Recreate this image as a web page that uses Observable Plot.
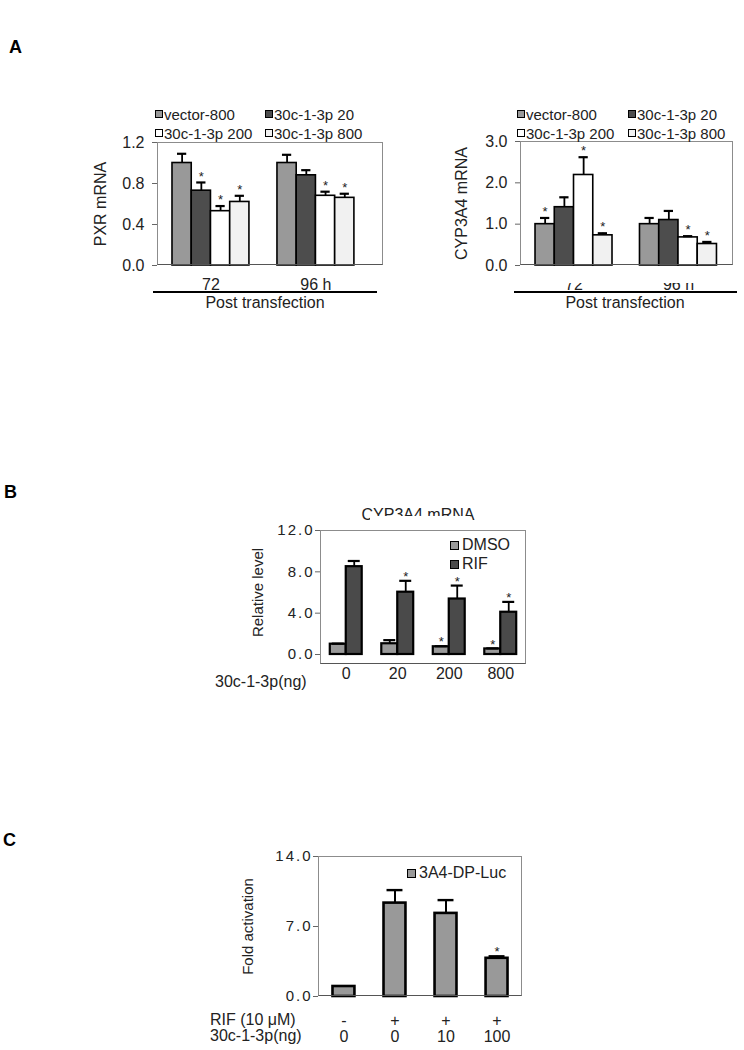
<!DOCTYPE html>
<html>
<head>
<meta charset="utf-8">
<script src="https://cdn.jsdelivr.net/npm/d3@7"></script>
<script src="https://cdn.jsdelivr.net/npm/@observablehq/plot@0.6"></script>
<style>
  body { margin: 0; background: #fff; }
  #page { position: relative; width: 744px; height: 1050px; overflow: hidden; background: #fff;
          font-family: "Liberation Sans", Arial, sans-serif; color: #222; }
  .abs { position: absolute; white-space: nowrap; }
  .frame { position: absolute; box-sizing: border-box; border: 1.5px solid #8c8c8c; border-bottom-color: #555; pointer-events: none; }
  .leg { position: absolute; display: flex; align-items: center; gap: 2px; white-space: nowrap; line-height: 1; height: 20px; }
  .sw { display: inline-block; box-sizing: border-box; border: 1.2px solid #000; }
  .hline { position: absolute; height: 2px; background: #000; }
  .cover { position: absolute; background: #fff; }
</style>
</head>
<body>
<div id="page"></div>
<script>
// ---------------- DATA ----------------
// Panel A
const seriesA = ["vector-800", "30c-1-3p 20", "30c-1-3p 200", "30c-1-3p 800"];
const colorsA = ["#999999", "#4d4d4d", "#ffffff", "#f1f1f1"];
const timesA = ["72", "96 h"];
const pxrMean = [[1.00, 0.73, 0.53, 0.62], [1.00, 0.88, 0.68, 0.66]];
const pxrErr  = [[0.09, 0.08, 0.05, 0.06], [0.08, 0.05, 0.04, 0.04]];
const pxrStar = [[0, 1, 1, 1], [0, 0, 1, 1]];
const cypMean = [[1.00, 1.41, 2.19, 0.73], [1.00, 1.10, 0.68, 0.52]];
const cypErr  = [[0.15, 0.24, 0.43, 0.05], [0.15, 0.22, 0.03, 0.05]];
const cypStar = [[1, 0, 1, 1], [0, 0, 1, 1]];

// Panel B
const dosesB = ["0", "20", "200", "800"];
const treatB = ["DMSO", "RIF"];
const colorsB = ["#9a9a9a", "#4a4a4a"];
const dmsoMean = [1.00, 1.04, 0.75, 0.54];
const dmsoErr  = [0.05, 0.35, 0.05, 0.05];
const dmsoStar = [0, 0, 1, 1];
const rifMean  = [8.50, 6.03, 5.37, 4.09];
const rifErr   = [0.55, 1.10, 1.30, 1.00];
const rifStar  = [0, 1, 1, 1];

// Panel C
const rifC = ["-", "+", "+", "+"];
const mirC = ["0", "0", "10", "100"];
const lucMean = [1.00, 9.34, 8.31, 3.82];
const lucErr  = [0.00, 1.30, 1.33, 0.20];
const lucStar = [0, 0, 0, 1];

// ---------------- HELPERS ----------------
const page = document.getElementById("page");
const FONT = "Liberation Sans, Arial, sans-serif";

function place(node, left, top) {
  node.style.position = "absolute";
  node.style.left = left + "px";
  node.style.top = top + "px";
  page.appendChild(node);
  return node;
}
function textDiv(txt, left, top, css = "") {
  const d = document.createElement("div");
  d.className = "abs";
  d.style.cssText = css;
  d.style.left = left + "px";
  d.style.top = top + "px";
  d.textContent = txt;
  page.appendChild(d);
  return d;
}
function boxDiv(cls, left, top, w, h) {
  const d = document.createElement("div");
  d.className = cls;
  d.style.left = left + "px"; d.style.top = top + "px";
  d.style.width = w + "px"; d.style.height = h + "px";
  page.appendChild(d);
  return d;
}
function legendItem(x, yc, label, color, fs, sw, gap) {
  const d = document.createElement("div");
  d.className = "leg";
  d.style.left = x + "px";
  d.style.top = (yc - 10) + "px";
  d.style.fontSize = fs + "px";
  d.style.gap = gap + "px";
  const s = document.createElement("span");
  s.className = "sw";
  s.style.width = sw + "px"; s.style.height = sw + "px"; s.style.background = color;
  const t = document.createElement("span");
  t.textContent = label;
  d.appendChild(s); d.appendChild(t);
  page.appendChild(d);
}
function spaceTicks(svg, ls) {
  svg.querySelectorAll('[aria-label="y-axis tick label"] text').forEach(t => t.style.letterSpacing = ls);
}

function groupedPlot(o) {
  // left outer gap of the first facet band, so the y axis sits on the outer frame
  const inner = o.width - o.ml - o.mr;
  const step = inner / (o.groups.length - o.pi + 2 * o.po);
  const outerLeft = o.align * (inner - step * (o.groups.length - o.pi));
  return Plot.plot({
    width: o.width, height: o.height,
    marginLeft: o.ml, marginRight: o.mr, marginTop: o.mt, marginBottom: o.mb,
    style: {fontFamily: FONT, fontSize: o.tickFs + "px", color: "#222", background: "none", overflow: "visible"},
    fx: {domain: o.groups, paddingInner: o.pi, paddingOuter: o.po, align: o.align, round: false},
    x: {domain: o.series, padding: 0, round: false, axis: null},
    y: {domain: o.yDomain, axis: null},
    color: {domain: o.series, range: o.colors},
    marks: [
      Plot.barY(o.rows, {fx: "g", x: "s", y: "m", fill: "s", stroke: "#000", strokeWidth: o.barStroke}),
      Plot.ruleX(o.rows, {fx: "g", x: "s", y1: "m", y2: d => d.m + d.e, stroke: "#000", strokeWidth: 1.8}),
      Plot.tickY(o.rows, {fx: "g", x: "s", y: d => d.m + d.e, stroke: "#000", strokeWidth: 2.2, insetLeft: o.capInset, insetRight: o.capInset}),
      Plot.text(o.rows.filter(d => d.star), {fx: "g", x: "s", y: d => d.m + d.e, text: () => "*", dy: o.starDy, fontSize: 13, fill: "#222"}),
      Plot.axisY({ticks: o.yTicks, tickFormat: d => d.toFixed(1), tickSize: o.tickSize, tickPadding: o.tickPad, dx: -outerLeft,
                  stroke: "#666", fontSize: o.tickFs, label: o.yLabel, labelAnchor: "center", labelOffset: o.labelOffset, labelArrow: false}),
      Plot.axisFx({anchor: "bottom", tickSize: 0, tickPadding: o.fxPad, label: null, fontSize: 16})
    ]
  });
}

// ---------------- PANEL LABELS ----------------
textDiv("A", 9, 37, "font-weight:bold;font-size:18px;color:#000;");
textDiv("B", 4, 482, "font-weight:bold;font-size:18px;color:#000;");
textDiv("C", 3, 830, "font-weight:bold;font-size:18px;color:#000;");

// ---------------- PANEL A (left: PXR) ----------------
function rowsA(mean, err, star) {
  const r = [];
  timesA.forEach((g, i) => seriesA.forEach((s, j) => r.push({g, s, m: mean[i][j], e: err[i][j], star: !!star[i][j]})));
  return r;
}
const pA1 = groupedPlot({
  rows: rowsA(pxrMean, pxrErr, pxrStar), groups: timesA, series: seriesA, colors: colorsA,
  width: 300, height: 230, ml: 67, mr: 7, mt: 52, mb: 55,
  pi: 0.267, po: 0.21, align: 0.34,
  yDomain: [0, 1.2], yTicks: [0, 0.4, 0.8, 1.2], yLabel: "PXR mRNA",
  tickFs: 16, tickSize: 5, tickPad: 8, labelOffset: 78, fxPad: 13,
  barStroke: 1.6, capInset: 5, starDy: -6
});
place(pA1, 90, 90);
boxDiv("frame", 157, 142, 226, 123);

// ---------------- PANEL A (right: CYP3A4) ----------------
const pA2 = groupedPlot({
  rows: rowsA(cypMean, cypErr, cypStar), groups: timesA, series: seriesA, colors: colorsA,
  width: 324, height: 230, ml: 100, mr: 11, mt: 51, mb: 55,
  pi: 0.263, po: 0.151, align: 0.476,
  yDomain: [0, 3.0], yTicks: [0, 1, 2, 3], yLabel: "CYP3A4 mRNA",
  tickFs: 16, tickSize: 5, tickPad: 8, labelOffset: 80, fxPad: 13,
  barStroke: 1.6, capInset: 5, starDy: -6
});
place(pA2, 420, 90);
boxDiv("frame", 520, 141, 213, 124);
// x tick labels of the right panel are partly hidden in the original figure
boxDiv("cover", 525, 268, 205, 15);

// legends A
[[155, 114, 0], [265, 114, 1], [155, 133, 2], [265, 133, 3]].forEach(([x, y, i]) =>
  legendItem(x, y, seriesA[i], colorsA[i], 15, 8, 1));
[[517, 114, 0], [628, 114, 1], [517, 133, 2], [628, 133, 3]].forEach(([x, y, i]) =>
  legendItem(x, y, seriesA[i], colorsA[i], 15, 8, 1));

// "Post transfection" bars
boxDiv("hline", 153, 291, 224, 2);
boxDiv("hline", 514, 291, 223, 2);
textDiv("Post transfection", 265, 294, "font-size:16px;transform:translateX(-50%);");
textDiv("Post transfection", 625, 294, "font-size:16px;transform:translateX(-50%);");

// ---------------- PANEL B ----------------
const rowsB = [];
dosesB.forEach((g, i) => {
  rowsB.push({g, s: "DMSO", m: dmsoMean[i], e: dmsoErr[i], star: !!dmsoStar[i]});
  rowsB.push({g, s: "RIF", m: rifMean[i], e: rifErr[i], star: !!rifStar[i]});
});
const pB = groupedPlot({
  rows: rowsB, groups: dosesB, series: treatB, colors: colorsB,
  width: 320, height: 200, ml: 90, mr: 24, mt: 40, mb: 36,
  pi: 0.38, po: 0.19, align: 0.5,
  yDomain: [0, 12], yTicks: [0, 4, 8, 12], yLabel: "Relative level",
  tickFs: 15, tickSize: 5, tickPad: 1, labelOffset: 78, fxPad: 13,
  barStroke: 2.2, capInset: 2, starDy: -4
});
spaceTicks(pB, "2px");
place(pB, 230, 490);
boxDiv("frame", 320, 530, 206, 134);
textDiv("CYP3A4 mRNA", 418, 507, "font-size:16px;line-height:16px;transform:translateX(-50%);");
boxDiv("cover", 370, 516, 100, 12);
legendItem(450, 545, "DMSO", colorsB[0], 16, 9, 3);
legendItem(450, 564, "RIF", colorsB[1], 16, 9, 3);
textDiv("30c-1-3p(ng)", 215, 673, "font-size:16px;line-height:18px;");

// ---------------- PANEL C ----------------
const condC = rifC.map((r, i) => r + "|" + mirC[i]);
const rowsC = condC.map((c, i) => ({c, m: lucMean[i], e: lucErr[i], star: !!lucStar[i]}));
const pC = Plot.plot({
  width: 320, height: 210, marginLeft: 88, marginRight: 28, marginTop: 16, marginBottom: 54,
  style: {fontFamily: FONT, fontSize: "15px", color: "#222", background: "none", overflow: "visible"},
  x: {domain: condC, paddingInner: 0.57, paddingOuter: 0.284, align: 0.5, round: false},
  y: {domain: [0, 14]},
  marks: [
    Plot.barY(rowsC, {x: "c", y: "m", fill: "#999999", stroke: "#000", strokeWidth: 2.6}),
    Plot.ruleX(rowsC.filter(d => d.e > 0), {x: "c", y1: "m", y2: d => d.m + d.e, stroke: "#000", strokeWidth: 2}),
    Plot.tickY(rowsC.filter(d => d.e > 0), {x: "c", y: d => d.m + d.e, stroke: "#000", strokeWidth: 2.4, insetLeft: 3, insetRight: 3}),
    Plot.text(rowsC.filter(d => d.star), {x: "c", y: d => d.m + d.e, text: () => "*", dy: -4, fontSize: 13, fill: "#222"}),
    Plot.axisY({ticks: [0, 7, 14], tickFormat: d => d.toFixed(1), tickSize: 5, tickPadding: 1, stroke: "#666",
                fontSize: 15, label: "Fold activation", labelAnchor: "center", labelOffset: 76, labelArrow: false}),
    Plot.axisX({tickSize: 0, tickPadding: 18, tickFormat: d => d.replace("|", "\n"), label: null, fontSize: 16})
  ]
});
spaceTicks(pC, "2px");
place(pC, 230, 840);
boxDiv("frame", 318, 856, 204, 140);
legendItem(407, 873, "3A4-DP-Luc", "#999999", 16, 9, 3);
textDiv("RIF (10 μM)\n30c-1-3p(ng)", 210, 1012, "font-size:16px;line-height:16px;white-space:pre;");
</script>
</body>
</html>
